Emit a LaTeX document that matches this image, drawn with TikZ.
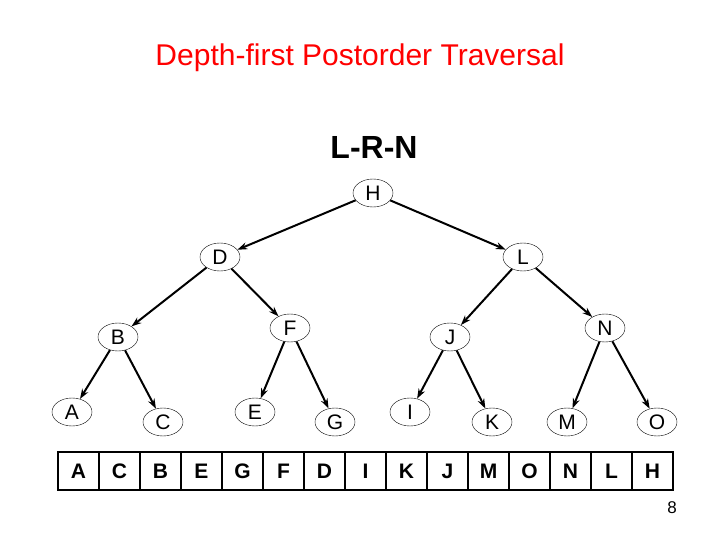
\documentclass[tikz,border=0pt]{standalone}
\usepackage{fontspec}
\setmainfont{Liberation Sans}
\usetikzlibrary{shapes.geometric,arrows.meta}
\begin{document}
\begin{tikzpicture}[x=1pt,y=-1pt,
  vertex/.style={draw,ellipse,minimum width=40pt,minimum height=28pt,inner sep=0pt,font=\fontsize{21}{24}\selectfont},
  edge/.style={-{Stealth[length=10pt,width=7pt]},line width=2pt},
  cell/.style={draw,line width=1.2pt,minimum width=41pt,minimum height=38pt,inner sep=0pt,font=\bfseries\fontsize{21}{24}\selectfont}]
  \useasboundingbox (0,0) rectangle (720,540);
  % Titulo
  \node[text=red,font=\fontsize{30}{34}\selectfont] (title) at (360,58) {Depth-first Postorder Traversal};
  \node[font=\bfseries\fontsize{32}{36}\selectfont] (order) at (374,147) {L-R-N};
  %
  % Nos da arvore
  \node[vertex] (H) at (373,193) {H};
  \node[vertex] (D) at (220,257) {D};
  \node[vertex] (L) at (523,257) {L};
  \node[vertex] (B) at (118,337) {B};
  \node[vertex] (F) at (290,328) {F};
  \node[vertex] (J) at (450,337) {J};
  \node[vertex] (N) at (605,328) {N};
  \node[vertex] (A) at (72,412) {A};
  \node[vertex] (C) at (163,422) {C};
  \node[vertex] (E) at (255,412) {E};
  \node[vertex] (G) at (335,422) {G};
  \node[vertex] (I) at (410,412) {I};
  \node[vertex] (K) at (492,422) {K};
  \node[vertex] (M) at (567,422) {M};
  \node[vertex] (O) at (657,422) {O};
  %
  % Arestas
  \foreach \p/\c in {H/D,H/L,D/B,D/F,L/J,L/N,B/A,B/C,F/E,F/G,J/I,J/K,N/M,N/O}
    \draw[edge] (\p) -- (\c);
  %
  % Sequencia do percurso
  \foreach \v [count=\i from 0] in {A,C,B,E,G,F,D,I,K,J,M,O,N,L,H}
    \node[cell] (cell\i) at (78.5+41*\i,471) {\v};
  \draw[line width=2.5pt] (58,452) rectangle (673,490);
  %
  \node[font=\fontsize{17}{20}\selectfont] (page) at (672,508) {8};
\end{tikzpicture}
\end{document}
